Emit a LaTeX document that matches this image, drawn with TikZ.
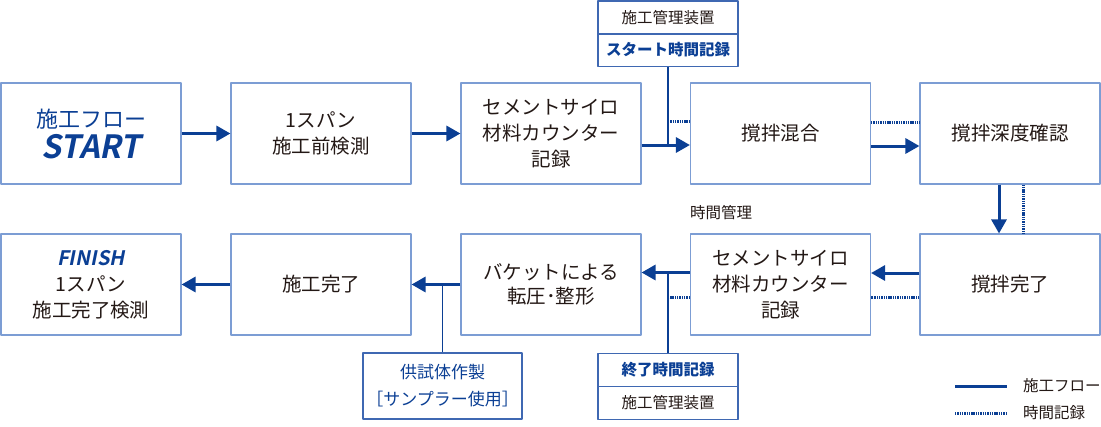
\documentclass[tikz,border=0pt]{standalone}
\usepackage{fontspec}
\setmainfont{Noto Sans CJK JP}
\newfontfamily\latinbi{Noto Sans CJK JP Bold}[FakeSlant=0.2]
\usetikzlibrary{arrows.meta}
\definecolor{flowblue}{HTML}{0B3F94}
\definecolor{boxline}{HTML}{7C9DD4}
\definecolor{boxdark}{HTML}{3F68B2}
\definecolor{inktext}{HTML}{231815}

\begin{document}
\begin{tikzpicture}[x=1pt,y=-1pt,line join=round,
    >={Triangle[length=14pt,width=15pt]},
    stepbox/.style={draw=boxline,line width=1.1pt,minimum width=180pt,minimum height=101pt,
        inner sep=0pt,align=center,text=inktext,font=\fontsize{19.5pt}{26pt}\selectfont},
    devbox/.style={draw=boxdark,line width=1.1pt,minimum width=140pt,minimum height=33pt,
        inner sep=0pt,align=center,text=inktext,font=\fontsize{15.5pt}{18pt}\selectfont},
    recbox/.style={devbox,text=flowblue,font=\fontsize{15.5pt}{18pt}\selectfont\bfseries},
    flow/.style={draw=flowblue,line width=3pt},
    rec/.style={draw=flowblue,line width=3pt,dash pattern=on 1.4pt off 0.9pt},
    tie/.style={draw=flowblue,line width=1.2pt},
    note/.style={text=inktext,font=\fontsize{15.5pt}{18pt}\selectfont,inner sep=0pt}]
    \useasboundingbox (0,0) rectangle (1101,426);

    % upper row
    \node[stepbox,text=flowblue] (start) at (91,133.5)
        {{\fontsize{22pt}{29pt}\selectfont 施工フロー}\\[5pt]{\fontsize{32pt}{32pt}\latinbi START}};
    \node[stepbox] (pre) at (321,133.5) {1スパン\\施工前検測};
    \node[stepbox] (cnt1) at (551,133.5) {セメントサイロ\\材料カウンター\\記録};
    \node[stepbox] (mix) at (780.5,133.5) {撹拌混合};
    \node[stepbox] (depth) at (1010,133.5) {撹拌深度確認};

    % lower row
    \node[stepbox] (finish) at (91,284.5)
        {{\fontsize{20pt}{21pt}\latinbi\color{flowblue}FINISH}\\1スパン\\施工完了検測};
    \node[stepbox,font=\fontsize{19.5pt}{24pt}\selectfont] (done) at (321,284.5) {施工完了};
    \node[stepbox,font=\fontsize{19.5pt}{24pt}\selectfont] (bucket) at (551,284.5) {バケットによる\\転圧･整形};
    \node[stepbox] (cnt2) at (780.5,284.5) {セメントサイロ\\材料カウンター\\記録};
    \node[stepbox] (mixend) at (1010,284.5) {撹拌完了};

    % management devices
    \node[devbox] (devtop) at (668,17.5) {施工管理装置};
    \node[recbox] (rectop) at (668,50) {スタート時間記録};
    \node[recbox] (recend) at (668,370) {終了時間記録};
    \node[devbox] (devbot) at (668,403) {施工管理装置};
    \node[devbox,minimum width=159pt,minimum height=66pt,text=flowblue,
        font=\fontsize{17pt}{27pt}\selectfont] (sample) at (442.5,386) {供試体作製\\［サンプラー使用］};
    \node[note] (tm) at (721,213) {時間管理};

    % flow
    \draw[flow,->] (start) -- (pre);
    \draw[flow,->] (pre) -- (cnt1);
    \draw[flow,->] ([yshift=-11.5pt]cnt1.east) -- ([yshift=-11.5pt]mix.west);
    \draw[flow,->] ([yshift=-12.5pt]mix.east) -- ([yshift=-12.5pt]depth.west);
    \draw[flow,->] ([xshift=-11pt]depth.south) -- ([xshift=-11pt]mixend.north);
    \draw[flow,->] ([yshift=11.5pt]mixend.west) -- ([yshift=11.5pt]cnt2.west -| cnt2.east);
    \draw[flow,->] ([yshift=12pt]cnt2.west) -- ([yshift=12pt]bucket.east);
    \draw[flow,->] (bucket) -- (done);
    \draw[flow,->] (done) -- (finish);

    % time records
    \coordinate (j1) at (668,145);
    \coordinate (d1) at (668,121);
    \coordinate (j2) at (668,272.5);
    \coordinate (d2) at (668,297);
    \coordinate (j3) at (442.5,284.5);
    \draw[tie] (rectop.south) -- (j1);
    \draw[rec] (d1) -- (d1 -| mix.west);
    \draw[rec] ([yshift=11.5pt]mix.east) -- ([yshift=11.5pt]depth.west);
    \draw[rec] ([xshift=13pt]depth.south) -- ([xshift=13pt]mixend.north);
    \draw[rec] ([yshift=-12.5pt]mixend.west) -- ([yshift=-12.5pt]cnt2.east);
    \draw[rec] (d2 -| cnt2.west) -- (d2);
    \draw[tie] (recend.north) -- (j2);
    \draw[tie] (sample.north) -- (j3);

    % legend
    \coordinate (l1) at (955,386);
    \coordinate (l2) at (1007,386);
    \coordinate (l3) at (955,413);
    \coordinate (l4) at (1007,413);
    \draw[flow] (l1) -- (l2);
    \draw[rec] (l3) -- (l4);
    \node[note,anchor=west] (lgflow) at (1023,386) {施工フロー};
    \node[note,anchor=west] (lgrec) at (1023,413) {時間記録};
\end{tikzpicture}
\end{document}
